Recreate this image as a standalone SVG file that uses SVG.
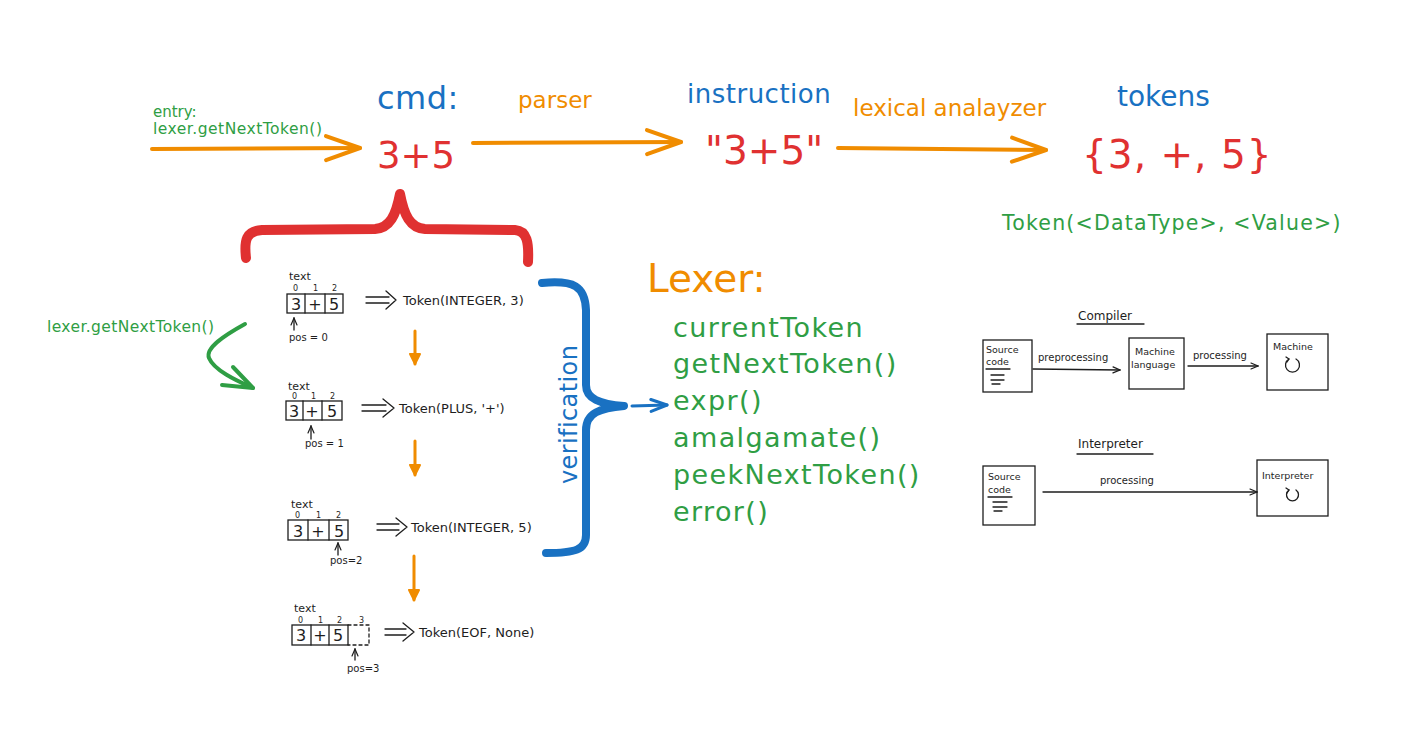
<svg xmlns="http://www.w3.org/2000/svg" width="1417" height="756" viewBox="0 0 1417 756">
<defs>
<style>
text{font-family:"DejaVu Sans","Liberation Sans",sans-serif}
.o{fill:#f08c00}.b{fill:#1971c2}.r{fill:#e03131}.g{fill:#2f9e44}.k{fill:#1e1e1e}
.so{stroke:#f08c00;fill:none;stroke-linecap:round;stroke-linejoin:round}
.sb{stroke:#1971c2;fill:none;stroke-linecap:round;stroke-linejoin:round}
.sr{stroke:#e03131;fill:none;stroke-linecap:round;stroke-linejoin:round}
.sg{stroke:#2f9e44;fill:none;stroke-linecap:round;stroke-linejoin:round}
.sk{stroke:#1e1e1e;fill:none;stroke-width:1.3;stroke-linecap:round;stroke-linejoin:round}
.box{stroke:#1e1e1e;fill:none;stroke-width:1.3}
.list{font-size:27px;letter-spacing:1.4px}
</style>
<marker id="mo" viewBox="0 0 40 30" refX="37" refY="15" markerWidth="40" markerHeight="30" markerUnits="userSpaceOnUse" orient="auto"><path d="M3,3 L37,15 L3,27" fill="none" stroke="#f08c00" stroke-width="4" stroke-linecap="round" stroke-linejoin="round"/></marker>
<marker id="mos" viewBox="0 0 14 14" refX="12" refY="7" markerWidth="14" markerHeight="14" markerUnits="userSpaceOnUse" orient="auto"><path d="M2,2 L12,7 L2,12 Z" fill="#f08c00" stroke="#f08c00" stroke-width="2" stroke-linejoin="round"/></marker>
<marker id="mb" viewBox="0 0 20 16" refX="18" refY="8" markerWidth="20" markerHeight="16" markerUnits="userSpaceOnUse" orient="auto"><path d="M2,2 L18,8 L2,14" fill="none" stroke="#1971c2" stroke-width="3" stroke-linecap="round" stroke-linejoin="round"/></marker>
<marker id="mk" viewBox="0 0 10 10" refX="9" refY="5" markerWidth="10" markerHeight="10" markerUnits="userSpaceOnUse" orient="auto"><path d="M2,2 L9,5 L2,8" fill="none" stroke="#1e1e1e" stroke-width="1.2" stroke-linecap="round"/></marker>
</defs>
<rect width="1417" height="756" fill="#ffffff"/>

<g id="connectors">
<path class="so" stroke-width="4" d="M152,149 L360,148" marker-end="url(#mo)"/>
<path class="so" stroke-width="4" d="M473,143 L681,142" marker-end="url(#mo)"/>
<path class="so" stroke-width="4" d="M838,148 L1046,150" marker-end="url(#mo)"/>
<path class="so" stroke-width="3" d="M415,331 L415,364" marker-end="url(#mos)"/>
<path class="so" stroke-width="3" d="M415,441 L415,475" marker-end="url(#mos)"/>
<path class="so" stroke-width="3" d="M414,556 L414,600" marker-end="url(#mos)"/>
<path class="sb" stroke-width="3" d="M632,406 L667,405" marker-end="url(#mb)"/>
<path class="sg" stroke-width="4" d="M245,324 C225,335 205,348 209,358 C214,370 235,380 253,388"/>
<path class="sg" stroke-width="4" d="M233,367 L253,388 L222,385"/>
</g>

<g id="entry">
<text class="g" x="153" y="117" font-size="15">entry:</text>
<text class="g" x="153" y="134" font-size="15.5" letter-spacing="0.5">lexer.getNextToken()</text>
</g>

<g id="cmd">
<text class="b" x="377" y="109" font-size="32" letter-spacing="0.5">cmd:</text>
<text class="r" x="377" y="168" font-size="37">3+5</text>
</g>

<g id="parser"><text class="o" x="518" y="108" font-size="23">parser</text></g>

<g id="instruction">
<text class="b" x="687" y="103" font-size="26" letter-spacing="0.5">instruction</text>
<text class="r" x="705" y="164" font-size="39">"3+5"</text>
</g>

<g id="lexical"><text class="o" x="853" y="116" font-size="23">lexical analayzer</text></g>

<g id="tokens">
<text class="b" x="1117" y="106" font-size="28">tokens</text>
<text class="r" x="1082" y="168" font-size="39" letter-spacing="1">{3, +, 5}</text>
<text class="g" x="1002" y="230" font-size="20.5" letter-spacing="1.2">Token(&lt;DataType&gt;, &lt;Value&gt;)</text>
</g>

<g id="red-brace">
<path class="sr" stroke-width="10" d="M246,258 C244,240 246,231 262,230 L375,229 C390,228 396,215 400,194 C404,215 410,228 425,229 L515,230 C527,231 529,242 528,262"/>
</g>

<g id="blue-brace">
<path class="sb" stroke-width="8" d="M542,283 C574,280 585,286 586,310 L586,385 C586,399 600,404 624,406 C600,408 586,413 586,430 L586,535 C586,550 575,553 546,553"/>
<text class="b" font-size="24" letter-spacing="0.4" transform="translate(577,484) rotate(-90)">verification</text>
</g>

<g id="lexer">
<text class="o" x="647" y="292" font-size="39">Lexer:</text>
<text class="g list" x="673" y="337">currentToken</text>
<text class="g list" x="673" y="373">getNextToken()</text>
<text class="g list" x="673" y="410">expr()</text>
<text class="g list" x="673" y="447">amalgamate()</text>
<text class="g list" x="673" y="484">peekNextToken()</text>
<text class="g list" x="673" y="521">error()</text>
</g>

<g id="side-label"><text class="g" x="47" y="332" font-size="15.5" letter-spacing="0.4">lexer.getNextToken()</text></g>

<g id="step1">
<text class="k" x="289" y="280" font-size="11">text</text>
<text class="k" font-size="8" y="291"><tspan x="293">0</tspan><tspan x="313">1</tspan><tspan x="332">2</tspan></text>
<rect class="box" x="287" y="294" width="56" height="19"/>
<path class="sk" d="M305,294 V313 M325,294 V313"/>
<text class="k" font-size="16" y="310" text-anchor="middle"><tspan x="296">3</tspan><tspan x="315">+</tspan><tspan x="334">5</tspan></text>
<path class="sk" d="M294,330 L294,318" marker-end="url(#mk)"/>
<text class="k" x="289" y="341" font-size="10">pos = 0</text>
<path class="sk" d="M366,297 H389 M366,303 H389 M386,291 L396,300 L386,309"/>
<text class="k" x="403" y="305" font-size="13">Token(INTEGER, 3)</text>
</g>

<g id="step2">
<text class="k" x="288" y="390" font-size="11">text</text>
<text class="k" font-size="8" y="399"><tspan x="292">0</tspan><tspan x="311">1</tspan><tspan x="330">2</tspan></text>
<rect class="box" x="286" y="401" width="56" height="19"/>
<path class="sk" d="M303,401 V420 M322,401 V420"/>
<text class="k" font-size="16" y="417" text-anchor="middle"><tspan x="294">3</tspan><tspan x="312">+</tspan><tspan x="332">5</tspan></text>
<path class="sk" d="M311,439 L311,426" marker-end="url(#mk)"/>
<text class="k" x="305" y="447" font-size="10">pos = 1</text>
<path class="sk" d="M362,405 H386 M362,411 H386 M383,399 L394,408 L383,417"/>
<text class="k" x="399" y="413" font-size="13">Token(PLUS, '+')</text>
</g>

<g id="step3">
<text class="k" x="291" y="508" font-size="11">text</text>
<text class="k" font-size="8" y="518"><tspan x="295">0</tspan><tspan x="316">1</tspan><tspan x="336">2</tspan></text>
<rect class="box" x="288" y="520" width="60" height="20"/>
<path class="sk" d="M308,520 V540 M329,520 V540"/>
<text class="k" font-size="16" y="537" text-anchor="middle"><tspan x="298">3</tspan><tspan x="318">+</tspan><tspan x="339">5</tspan></text>
<path class="sk" d="M338,555 L338,543" marker-end="url(#mk)"/>
<text class="k" x="330" y="564" font-size="10">pos=2</text>
<path class="sk" d="M377,524 H399 M377,530 H399 M396,518 L407,527 L396,536"/>
<text class="k" x="411" y="532" font-size="13">Token(INTEGER, 5)</text>
</g>

<g id="step4">
<text class="k" x="294" y="612" font-size="11">text</text>
<text class="k" font-size="8" y="623"><tspan x="298">0</tspan><tspan x="318">1</tspan><tspan x="337">2</tspan><tspan x="359">3</tspan></text>
<rect class="box" x="292" y="625" width="56" height="20"/>
<path class="sk" d="M311,625 V645 M329,625 V645"/>
<path class="sk" stroke-dasharray="3,3" d="M348,625 H369 V645 H348"/>
<text class="k" font-size="16" y="641" text-anchor="middle"><tspan x="301">3</tspan><tspan x="320">+</tspan><tspan x="338">5</tspan></text>
<path class="sk" d="M355,660 L355,649" marker-end="url(#mk)"/>
<text class="k" x="347" y="672" font-size="10">pos=3</text>
<path class="sk" d="M385,629 H406 M385,635 H406 M403,623 L414,632 L403,641"/>
<text class="k" x="419" y="637" font-size="13">Token(EOF, None)</text>
</g>

<g id="compiler">
<text class="k" x="1078" y="320" font-size="12">Compiler</text>
<path class="sk" d="M1077,324 H1144"/>
</g>
<g id="c-source">
<rect class="box" x="983" y="340" width="49" height="52"/>
<text class="k" x="986" y="353" font-size="9.5">Source</text>
<text class="k" x="986" y="365" font-size="9.5">code</text>
<path class="sk" d="M986,369 H1010 M991,375 H1004 M991,380 H1004 M992,384 H1000"/>
</g>
<g id="c-machinelang">
<rect class="box" x="1129" y="338" width="55" height="51"/>
<text class="k" x="1135" y="355" font-size="9.5">Machine</text>
<text class="k" x="1131" y="368" font-size="9.5">language</text>
</g>
<g id="c-machine">
<rect class="box" x="1267" y="334" width="61" height="56"/>
<text class="k" x="1273" y="350" font-size="9.5">Machine</text>
<path class="sk" d="M1289,359 A7,7 0 1 0 1296,359"/>
<path class="sk" d="M1286,357 L1289,359 L1287,362"/>
</g>
<g id="c-edges">
<path class="sk" d="M1033,369 L1120,370" marker-end="url(#mk)"/>
<text class="k" x="1038" y="361" font-size="10">preprocessing</text>
<path class="sk" d="M1188,366 L1258,366" marker-end="url(#mk)"/>
<text class="k" x="1193" y="359" font-size="10">processing</text>
</g>

<g id="interpreter">
<text class="k" x="1078" y="448" font-size="12">Interpreter</text>
<path class="sk" d="M1077,454 H1153"/>
</g>
<g id="i-source">
<rect class="box" x="983" y="466" width="52" height="59"/>
<text class="k" x="988" y="480" font-size="9.5">Source</text>
<text class="k" x="988" y="493" font-size="9.5">code</text>
<path class="sk" d="M988,497 H1012 M993,502 H1007 M993,507 H1007 M994,511 H1002"/>
</g>
<g id="i-interp">
<rect class="box" x="1257" y="460" width="71" height="56"/>
<text class="k" x="1262" y="479" font-size="9.5">Interpreter</text>
<path class="sk" d="M1289,490 A6,6 0 1 0 1296,490"/>
<path class="sk" d="M1286,488 L1289,490 L1287,493"/>
</g>
<g id="i-edges">
<path class="sk" d="M1043,492 L1257,492" marker-end="url(#mk)"/>
<text class="k" x="1100" y="484" font-size="10">processing</text>
</g>
</svg>
